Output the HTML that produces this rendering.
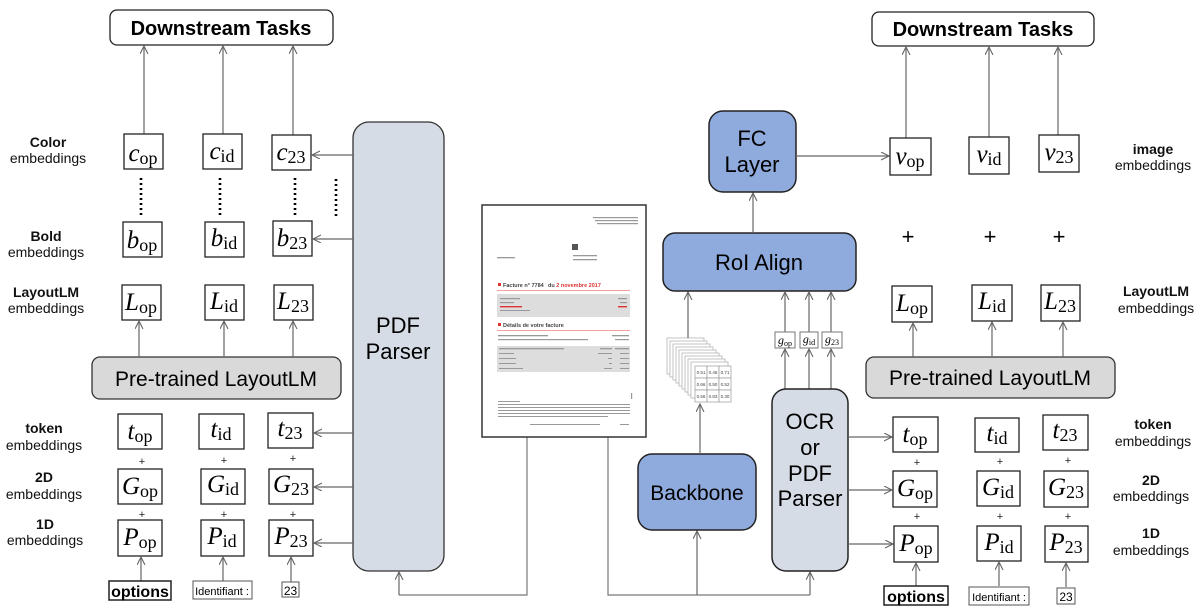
<!DOCTYPE html>
<html><head><meta charset="utf-8"><style>
html,body{margin:0;padding:0;background:#fff;}
svg{display:block;}
.lbl{font-family:"Liberation Sans",sans-serif;font-size:14px;fill:#111;text-anchor:middle;}
.lb{font-weight:bold;}
.m{font-family:"Liberation Serif",serif;text-anchor:middle;fill:#000;}
.mi{font-style:italic;font-size:25px;}
.ms{font-size:18px;}
.bx{fill:#fff;stroke:#222;stroke-width:1.3;}
.ar{stroke:#666;stroke-width:1.2;fill:none;marker-end:url(#ah);}
.ln{stroke:#777;stroke-width:1.2;fill:none;}
.pl{font-family:"Liberation Sans",sans-serif;font-size:11px;text-anchor:middle;fill:#222;}
.big{font-family:"Liberation Sans",sans-serif;text-anchor:middle;fill:#000;}
.dt{stroke:#000;stroke-width:2.6;stroke-dasharray:2,3;}
.tiny{fill:#999;}
</style></head><body>
<svg width="1196" height="609" viewBox="0 0 1196 609" xmlns="http://www.w3.org/2000/svg">
<defs>
<marker id="ah" markerWidth="10" markerHeight="10" refX="8" refY="4" orient="auto" markerUnits="userSpaceOnUse">
<path d="M0,0 L8,4 L0,8" fill="none" stroke="#666" stroke-width="1.1"/>
</marker>
</defs>

<!-- ===== LEFT ===== -->
<rect x="110" y="10" width="223" height="35" rx="7" fill="#fff" stroke="#222" stroke-width="1.3"/>
<text x="221" y="35" class="big" font-size="20" font-weight="bold">Downstream Tasks</text>
<line class="ar" x1="144" y1="134" x2="144" y2="46"/>
<line class="ar" x1="223" y1="134" x2="223" y2="46"/>
<line class="ar" x1="293" y1="135" x2="293" y2="46"/>

<text class="lbl lb" x="48" y="147">Color</text><text class="lbl" x="48" y="163">embeddings</text>
<text class="lbl lb" x="46" y="241">Bold</text><text class="lbl" x="46" y="257">embeddings</text>
<text class="lbl lb" x="46" y="297">LayoutLM</text><text class="lbl" x="46" y="313">embeddings</text>
<text class="lbl lb" x="44" y="433">token</text><text class="lbl" x="44" y="450">embeddings</text>
<text class="lbl lb" x="44" y="482">2D</text><text class="lbl" x="44" y="499">embeddings</text>
<text class="lbl lb" x="45" y="529">1D</text><text class="lbl" x="45" y="545">embeddings</text>

<rect class="bx" x="124" y="134" width="39" height="35"/><text class="m" x="143" y="161"><tspan class="mi">c</tspan><tspan class="ms" dy="3">op</tspan></text>
<rect class="bx" x="203" y="134" width="39" height="35"/><text class="m" x="222" y="159"><tspan class="mi">c</tspan><tspan class="ms" dy="3">id</tspan></text>
<rect class="bx" x="272" y="135" width="39" height="35"/><text class="m" x="291" y="160"><tspan class="mi">c</tspan><tspan class="ms" dy="3">23</tspan></text>
<line class="dt" x1="141" y1="178" x2="141" y2="215"/>
<line class="dt" x1="220" y1="178" x2="220" y2="215"/>
<line class="dt" x1="295" y1="178" x2="295" y2="215"/>
<line class="dt" x1="336" y1="179" x2="336" y2="216"/>
<rect class="bx" x="123" y="222" width="39" height="35"/><text class="m" x="142" y="248"><tspan class="mi">b</tspan><tspan class="ms" dy="3">op</tspan></text>
<rect class="bx" x="205" y="222" width="39" height="35"/><text class="m" x="224" y="246"><tspan class="mi">b</tspan><tspan class="ms" dy="3">id</tspan></text>
<rect class="bx" x="273" y="221" width="39" height="35"/><text class="m" x="292" y="246"><tspan class="mi">b</tspan><tspan class="ms" dy="3">23</tspan></text>
<rect class="bx" x="122" y="285" width="39" height="35"/><text class="m" x="141" y="310"><tspan class="mi">L</tspan><tspan class="ms" dy="3">op</tspan></text>
<rect class="bx" x="205" y="285" width="39" height="35"/><text class="m" x="224" y="309"><tspan class="mi">L</tspan><tspan class="ms" dy="3">id</tspan></text>
<rect class="bx" x="274" y="285" width="39" height="35"/><text class="m" x="293" y="309"><tspan class="mi">L</tspan><tspan class="ms" dy="3">23</tspan></text>

<rect x="92" y="357" width="249" height="42" rx="8" fill="#d9d9d9" stroke="#333" stroke-width="1.3"/>
<text x="216" y="386" class="big" font-size="21">Pre-trained LayoutLM</text>
<line class="ar" x1="139" y1="357" x2="139" y2="321"/>
<line class="ar" x1="224" y1="357" x2="224" y2="321"/>
<line class="ar" x1="293" y1="357" x2="293" y2="321"/>

<rect class="bx" x="118" y="414" width="44" height="35"/><text class="m" x="140" y="439"><tspan class="mi">t</tspan><tspan class="ms" dy="3">op</tspan></text>
<rect class="bx" x="199" y="414" width="45" height="35"/><text class="m" x="221" y="437"><tspan class="mi">t</tspan><tspan class="ms" dy="3">id</tspan></text>
<rect class="bx" x="268" y="413" width="45" height="35"/><text class="m" x="290" y="436"><tspan class="mi">t</tspan><tspan class="ms" dy="3">23</tspan></text>
<text class="pl" x="142" y="465">+</text><text class="pl" x="224" y="464">+</text><text class="pl" x="293" y="462">+</text>
<rect class="bx" x="118" y="469" width="44" height="35"/><text class="m" x="140" y="494"><tspan class="mi">G</tspan><tspan class="ms" dy="3">op</tspan></text>
<rect class="bx" x="201" y="469" width="44" height="35"/><text class="m" x="223" y="492"><tspan class="mi">G</tspan><tspan class="ms" dy="3">id</tspan></text>
<rect class="bx" x="269" y="469" width="44" height="35"/><text class="m" x="291" y="492"><tspan class="mi">G</tspan><tspan class="ms" dy="3">23</tspan></text>
<text class="pl" x="142" y="518">+</text><text class="pl" x="224" y="518">+</text><text class="pl" x="293" y="518">+</text>
<rect class="bx" x="118" y="520" width="44" height="36"/><text class="m" x="140" y="545"><tspan class="mi">P</tspan><tspan class="ms" dy="3">op</tspan></text>
<rect class="bx" x="201" y="520" width="43" height="36"/><text class="m" x="222" y="544"><tspan class="mi">P</tspan><tspan class="ms" dy="3">id</tspan></text>
<rect class="bx" x="269" y="520" width="44" height="36"/><text class="m" x="291" y="544"><tspan class="mi">P</tspan><tspan class="ms" dy="3">23</tspan></text>

<line class="ar" x1="141" y1="581" x2="141" y2="557"/>
<line class="ar" x1="223" y1="581" x2="223" y2="557"/>
<line class="ar" x1="291" y1="582" x2="291" y2="557"/>
<rect x="109" y="581" width="62" height="19" fill="#fff" stroke="#222" stroke-width="1.5"/>
<text x="140" y="597" class="big" font-size="16" font-weight="bold">options</text>
<rect x="193" y="581" width="59" height="18" fill="#fff" stroke="#555" stroke-width="1"/>
<text x="222" y="595" class="big" font-size="11" fill="#222">Identifiant :</text>
<rect x="282" y="582" width="17" height="15" fill="#fff" stroke="#555" stroke-width="1"/>
<text x="290.5" y="595" class="big" font-size="12">23</text>

<rect x="353" y="122" width="91" height="449" rx="16" fill="#d6dce5" stroke="#333" stroke-width="1.3"/>
<text x="398" y="333" class="big" font-size="22">PDF</text>
<text x="398" y="359" class="big" font-size="22">Parser</text>
<line class="ar" x1="353" y1="155" x2="312" y2="155"/>
<line class="ar" x1="353" y1="239" x2="313" y2="239"/>
<line class="ar" x1="353" y1="433" x2="314" y2="433"/>
<line class="ar" x1="353" y1="487" x2="314" y2="487"/>
<line class="ar" x1="353" y1="543" x2="314" y2="543"/>

<polyline class="ln" points="527,437 527,595 399,595"/>
<line class="ar" x1="399" y1="595" x2="399" y2="572"/>
<polyline class="ln" points="608,437 608,595 810,595"/>
<line class="ar" x1="697" y1="595" x2="697" y2="531"/>
<line class="ar" x1="810" y1="595" x2="810" y2="572"/>

<!-- Document -->
<rect x="482" y="205" width="164" height="232" fill="#fff" stroke="#333" stroke-width="1.5"/>
<g class="tiny">
<rect x="593" y="217" width="45" height="1.2"/><rect x="595" y="220" width="43" height="1.2"/><rect x="597" y="223" width="41" height="1.2"/>
<rect x="572" y="244" width="6" height="6" fill="#555"/>
<rect x="497" y="257" width="18" height="1.3"/><rect x="573" y="255" width="24" height="1.3"/><rect x="573" y="259" width="24" height="1.3"/>
</g>
<rect x="498" y="283" width="3" height="3" fill="#d33"/>
<text x="503" y="287" font-family="Liberation Sans,sans-serif" font-size="5.5" font-weight="bold" fill="#444">Facture n° 7784</text>
<text x="548" y="287" font-family="Liberation Sans,sans-serif" font-size="5.5" font-weight="bold" fill="#444">du <tspan fill="#d33">2 novembre 2017</tspan></text>
<rect x="497" y="290" width="133" height="0.8" fill="#e88"/>
<rect x="497" y="294" width="133" height="23" fill="#ddd"/>
<g class="tiny"><rect x="500" y="298" width="20" height="1.2"/><rect x="500" y="302" width="14" height="1.2"/><rect x="618" y="298" width="9" height="1.2"/><rect x="620" y="302" width="7" height="1.2"/><rect x="500" y="310" width="30" height="1"/></g>
<rect x="500" y="306" width="22" height="1.4" fill="#d33"/><rect x="618" y="306" width="9" height="1.4" fill="#d33"/>
<rect x="498" y="323" width="3" height="3" fill="#d33"/>
<text x="503" y="327" font-family="Liberation Sans,sans-serif" font-size="5.5" font-weight="bold" fill="#444">Détails de votre facture</text>
<rect x="497" y="330" width="133" height="0.8" fill="#e88"/>
<g class="tiny"><rect x="498" y="335" width="50" height="1.3"/><rect x="498" y="339" width="90" height="1.2"/><rect x="612" y="335" width="17" height="1.3"/><rect x="615" y="339" width="14" height="1.2"/></g>
<rect x="497" y="346" width="133" height="26" fill="#ddd"/>
<g class="tiny"><rect x="499" y="348" width="65" height="1.3"/><rect x="600" y="348" width="12" height="1.3"/><rect x="615" y="348" width="14" height="1.3"/>
<rect x="499" y="353" width="15" height="1"/><rect x="499" y="358" width="17" height="1"/><rect x="499" y="363" width="17" height="1"/><rect x="499" y="368" width="24" height="1"/>
<rect x="598" y="353" width="14" height="1"/><rect x="608" y="358" width="4" height="1"/><rect x="609" y="363" width="3" height="1"/><rect x="604" y="368" width="8" height="1"/>
<rect x="620" y="353" width="9" height="1"/><rect x="620" y="358" width="9" height="1"/><rect x="620" y="363" width="9" height="1"/><rect x="620" y="368" width="9" height="1"/>
<rect x="631" y="393" width="1.2" height="6"/>
<rect x="498" y="401" width="22" height="1"/><rect x="498" y="404" width="132" height="1"/><rect x="498" y="407" width="132" height="1"/><rect x="498" y="410" width="132" height="1"/><rect x="498" y="413" width="132" height="1"/><rect x="498" y="416" width="110" height="1"/>
<rect x="530" y="424" width="70" height="1"/><rect x="620" y="424" width="9" height="1"/></g>

<rect x="638" y="454" width="118" height="76" rx="14" fill="#8faadc" stroke="#222" stroke-width="1.5"/>
<text x="697" y="500" class="big" font-size="21">Backbone</text>
<line class="ar" x1="700" y1="454" x2="700" y2="404"/>

<!-- feature cube -->
<g stroke="#aaa" stroke-width="0.7" fill="#fff">
<rect x="667" y="338" width="37" height="36"/>
<rect x="670" y="341" width="37" height="36"/><rect x="673" y="344" width="37" height="36"/><rect x="676" y="347" width="37" height="36"/>
<rect x="679" y="350" width="37" height="36"/><rect x="682" y="353" width="37" height="36"/><rect x="685" y="356" width="37" height="36"/>
<rect x="688" y="359" width="37" height="36"/><rect x="691" y="362" width="37" height="36"/>
</g>
<g stroke="#999" stroke-width="0.7" fill="#fff">
<rect x="695" y="366" width="12" height="12"/><rect x="707" y="366" width="12" height="12"/><rect x="719" y="366" width="12" height="12"/>
<rect x="695" y="378" width="12" height="12"/><rect x="707" y="378" width="12" height="12"/><rect x="719" y="378" width="12" height="12"/>
<rect x="695" y="390" width="12" height="12"/><rect x="707" y="390" width="12" height="12"/><rect x="719" y="390" width="12" height="12"/>
</g>
<g font-family="Liberation Sans,sans-serif" font-size="4.5" fill="#444" text-anchor="middle">
<text x="701" y="374">0.51</text><text x="713" y="374">0.46</text><text x="725" y="374">0.71</text>
<text x="701" y="386">0.66</text><text x="713" y="386">0.50</text><text x="725" y="386">0.52</text>
<text x="701" y="398">0.56</text><text x="713" y="398">0.83</text><text x="725" y="398">0.30</text>
</g>
<line class="ar" x1="688" y1="338" x2="688" y2="292"/>

<rect x="663" y="233" width="193" height="58" rx="12" fill="#8faadc" stroke="#222" stroke-width="1.5"/>
<text x="759" y="270" class="big" font-size="22">RoI Align</text>
<line class="ar" x1="753" y1="233" x2="753" y2="193"/>
<rect x="709" y="111" width="87" height="81" rx="14" fill="#8faadc" stroke="#222" stroke-width="1.5"/>
<text x="752" y="146" class="big" font-size="22">FC</text>
<text x="752" y="172" class="big" font-size="22">Layer</text>
<line class="ar" x1="796" y1="156" x2="889" y2="156"/>

<line class="ar" x1="785" y1="332" x2="785" y2="292"/>
<line class="ar" x1="809" y1="332" x2="809" y2="292"/>
<line class="ar" x1="831" y1="332" x2="831" y2="292"/>
<line class="ar" x1="785" y1="389" x2="785" y2="349"/>
<line class="ar" x1="809" y1="389" x2="809" y2="349"/>
<line class="ar" x1="831" y1="389" x2="831" y2="349"/>
<rect x="775" y="332" width="20" height="16" fill="#fff" stroke="#777" stroke-width="1"/>
<rect x="800" y="332" width="18" height="16" fill="#fff" stroke="#777" stroke-width="1"/>
<rect x="822" y="332" width="20" height="16" fill="#fff" stroke="#777" stroke-width="1"/>
<text class="m" x="785" y="344"><tspan font-style="italic" font-size="12">g</tspan><tspan font-size="8" dy="2">op</tspan></text>
<text class="m" x="809" y="343"><tspan font-style="italic" font-size="12">g</tspan><tspan font-size="8" dy="2">id</tspan></text>
<text class="m" x="832" y="343"><tspan font-style="italic" font-size="12">g</tspan><tspan font-size="8" dy="2">23</tspan></text>

<rect x="772" y="389" width="76" height="182" rx="14" fill="#d6dce5" stroke="#222" stroke-width="1.5"/>
<text x="810" y="429" class="big" font-size="22">OCR</text>
<text x="810" y="455" class="big" font-size="22">or</text>
<text x="810" y="481" class="big" font-size="22">PDF</text>
<text x="810" y="506" class="big" font-size="22">Parser</text>
<line class="ar" x1="848" y1="437" x2="892" y2="437"/>
<line class="ar" x1="848" y1="490" x2="892" y2="490"/>
<line class="ar" x1="848" y1="544" x2="893" y2="544"/>

<!-- ===== RIGHT ===== -->
<rect x="872" y="12" width="222" height="34" rx="7" fill="#fff" stroke="#222" stroke-width="1.3"/>
<text x="983" y="36" class="big" font-size="20" font-weight="bold">Downstream Tasks</text>
<line class="ar" x1="906" y1="138" x2="906" y2="47"/>
<line class="ar" x1="989" y1="137" x2="989" y2="47"/>
<line class="ar" x1="1058" y1="135" x2="1058" y2="47"/>

<rect class="bx" x="890" y="138" width="41" height="37"/><text class="m" x="910" y="164"><tspan class="mi">v</tspan><tspan class="ms" dy="3">op</tspan></text>
<rect class="bx" x="969" y="137" width="40" height="37"/><text class="m" x="989" y="162"><tspan class="mi">v</tspan><tspan class="ms" dy="3">id</tspan></text>
<rect class="bx" x="1039" y="135" width="40" height="37"/><text class="m" x="1059" y="160"><tspan class="mi">v</tspan><tspan class="ms" dy="3">23</tspan></text>
<text class="lbl lb" x="1153" y="154">image</text><text class="lbl" x="1153" y="170">embeddings</text>

<text class="big" font-size="22" x="908" y="244">+</text>
<text class="big" font-size="22" x="990" y="244">+</text>
<text class="big" font-size="22" x="1059" y="244">+</text>

<rect class="bx" x="892" y="286" width="40" height="36"/><text class="m" x="912" y="311"><tspan class="mi">L</tspan><tspan class="ms" dy="3">op</tspan></text>
<rect class="bx" x="972" y="285" width="40" height="36"/><text class="m" x="992" y="309"><tspan class="mi">L</tspan><tspan class="ms" dy="3">id</tspan></text>
<rect class="bx" x="1041" y="285" width="39" height="36"/><text class="m" x="1060" y="309"><tspan class="mi">L</tspan><tspan class="ms" dy="3">23</tspan></text>
<text class="lbl lb" x="1156" y="296">LayoutLM</text><text class="lbl" x="1156" y="313">embeddings</text>

<rect x="866" y="357" width="249" height="41" rx="8" fill="#d9d9d9" stroke="#333" stroke-width="1.3"/>
<text x="990" y="385" class="big" font-size="21">Pre-trained LayoutLM</text>
<line class="ar" x1="913" y1="357" x2="913" y2="323"/>
<line class="ar" x1="992" y1="357" x2="992" y2="322"/>
<line class="ar" x1="1063" y1="357" x2="1063" y2="322"/>

<rect class="bx" x="893" y="417" width="45" height="35"/><text class="m" x="915" y="442"><tspan class="mi">t</tspan><tspan class="ms" dy="3">op</tspan></text>
<rect class="bx" x="975" y="418" width="44" height="34"/><text class="m" x="997" y="441"><tspan class="mi">t</tspan><tspan class="ms" dy="3">id</tspan></text>
<rect class="bx" x="1043" y="415" width="45" height="35"/><text class="m" x="1065" y="438"><tspan class="mi">t</tspan><tspan class="ms" dy="3">23</tspan></text>
<text class="lbl lb" x="1153" y="429">token</text><text class="lbl" x="1153" y="446">embeddings</text>
<text class="pl" x="917" y="466">+</text><text class="pl" x="1000" y="465">+</text><text class="pl" x="1068" y="464">+</text>

<rect class="bx" x="893" y="471" width="44" height="36"/><text class="m" x="915" y="496"><tspan class="mi">G</tspan><tspan class="ms" dy="3">op</tspan></text>
<rect class="bx" x="977" y="471" width="43" height="35"/><text class="m" x="998" y="495"><tspan class="mi">G</tspan><tspan class="ms" dy="3">id</tspan></text>
<rect class="bx" x="1044" y="471" width="44" height="36"/><text class="m" x="1066" y="495"><tspan class="mi">G</tspan><tspan class="ms" dy="3">23</tspan></text>
<text class="lbl lb" x="1151" y="485">2D</text><text class="lbl" x="1151" y="501">embeddings</text>
<text class="pl" x="917" y="520">+</text><text class="pl" x="1000" y="520">+</text><text class="pl" x="1068" y="520">+</text>

<rect class="bx" x="894" y="526" width="44" height="36"/><text class="m" x="916" y="551"><tspan class="mi">P</tspan><tspan class="ms" dy="3">op</tspan></text>
<rect class="bx" x="977" y="526" width="44" height="35"/><text class="m" x="999" y="550"><tspan class="mi">P</tspan><tspan class="ms" dy="3">id</tspan></text>
<rect class="bx" x="1045" y="526" width="43" height="36"/><text class="m" x="1066" y="550"><tspan class="mi">P</tspan><tspan class="ms" dy="3">23</tspan></text>
<text class="lbl lb" x="1151" y="538">1D</text><text class="lbl" x="1151" y="555">embeddings</text>

<line class="ar" x1="916" y1="586" x2="916" y2="563"/>
<line class="ar" x1="999" y1="586" x2="999" y2="562"/>
<line class="ar" x1="1066" y1="587" x2="1066" y2="563"/>
<rect x="884" y="586" width="64" height="19" fill="#fff" stroke="#222" stroke-width="1.5"/>
<text x="916" y="602" class="big" font-size="16" font-weight="bold">options</text>
<rect x="969" y="587" width="60" height="18" fill="#fff" stroke="#555" stroke-width="1"/>
<text x="999" y="601" class="big" font-size="11" fill="#222">Identifiant :</text>
<rect x="1057" y="588" width="18" height="16" fill="#fff" stroke="#555" stroke-width="1"/>
<text x="1066" y="601" class="big" font-size="12">23</text>
</svg>
</body></html>
